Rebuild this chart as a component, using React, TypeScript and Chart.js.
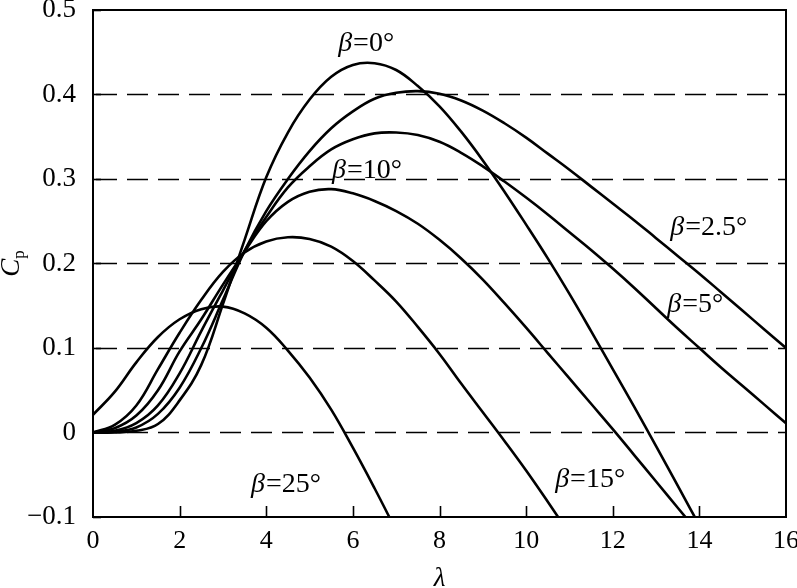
import React, { useEffect, useRef } from "react";
import { Chart, registerables } from "chart.js";

Chart.register(...registerables);

// λ grid shared by all curves (tip-speed ratio)
const LAMBDA = [
  0, 0.5, 1, 1.5, 2, 2.5, 3, 3.5, 4, 4.5, 5, 5.5, 6, 6.5, 7, 7.5, 8, 8.5, 9, 9.5,
  10, 10.5, 11, 11.5, 12, 12.5, 13, 13.5, 14, 14.5, 15, 15.5, 16,
];

// Power coefficient Cp for each pitch angle β
const CP_B0 = [
  0, 0, 0.002, 0.01, 0.038, 0.08, 0.152, 0.228, 0.302, 0.355, 0.394, 0.421, 0.435, 0.437,
  0.429, 0.41, 0.386, 0.356, 0.322, 0.285, 0.246, 0.206, 0.164, 0.12, 0.075, 0.03, -0.016,
  -0.063, -0.11,
];
const CP_B2_5 = [
  0, 0.001, 0.006, 0.022, 0.053, 0.1, 0.157, 0.215, 0.262, 0.3, 0.333, 0.36, 0.38, 0.395,
  0.402, 0.404, 0.401, 0.393, 0.381, 0.366, 0.349, 0.33, 0.311, 0.291, 0.271, 0.251, 0.23,
  0.209, 0.188, 0.166, 0.144, 0.122, 0.1,
];
const CP_B5 = [
  0, 0.002, 0.011, 0.032, 0.07, 0.12, 0.168, 0.215, 0.255, 0.29, 0.315, 0.335, 0.347, 0.354,
  0.355, 0.352, 0.344, 0.331, 0.315, 0.297, 0.278, 0.258, 0.237, 0.216, 0.194, 0.171, 0.147,
  0.123, 0.1, 0.077, 0.055, 0.033, 0.011,
];
const CP_B10 = [
  0, 0.005, 0.02, 0.05, 0.096, 0.134, 0.175, 0.214, 0.25, 0.273, 0.285, 0.288, 0.283, 0.274,
  0.262, 0.247, 0.228, 0.206, 0.181, 0.153, 0.124, 0.094, 0.064, 0.034, 0.004, -0.027, -0.058,
  -0.089, -0.12,
];
const CP_B15 = [
  0, 0.009, 0.032, 0.075, 0.118, 0.157, 0.19, 0.213, 0.226, 0.231, 0.229, 0.22, 0.203, 0.18,
  0.155, 0.125, 0.093, 0.058, 0.024, -0.01, -0.045, -0.082, -0.12,
];
const CP_B25 = [
  0.021, 0.048, 0.083, 0.113, 0.134, 0.146, 0.149, 0.141, 0.124, 0.097, 0.065, 0.027, -0.018,
  -0.066, -0.116,
];

const SERIES = [CP_B0, CP_B2_5, CP_B5, CP_B10, CP_B15, CP_B25];

// Axis ticks
const X_TICKS = [0, 2, 4, 6, 8, 10, 12, 14, 16];
const Y_TICKS = [-0.1, 0, 0.1, 0.2, 0.3, 0.4, 0.5];
const Y_GRID = [0, 0.1, 0.2, 0.3, 0.4];

// Curve annotations: text after β, anchor (λ, Cp) of left/baseline
const LABEL_TEXTS = ["=0°", "=10°", "=2.5°", "=5°", "=15°", "=25°"];
const LABEL_LAMBDA = [5.66, 5.52, 13.33, 13.26, 10.67, 3.65];
const LABEL_CP = [0.451, 0.301, 0.234, 0.143, -0.065, -0.071];

const SERIF = '"Liberation Serif", "Times New Roman", serif';

const fmtY = (v: number) => {
  if (Math.abs(v) < 1e-9) return "0";
  return (v < 0 ? "\u2212" : "") + Math.abs(v).toFixed(1);
};

const decorPlugin = {
  id: "decor",
  beforeDatasetsDraw(chart: any) {
    const { ctx, chartArea, scales } = chart;
    const y = scales.y;
    ctx.save();
    ctx.strokeStyle = "#000";
    ctx.lineWidth = 1.6;
    ctx.setLineDash([21, 10]);
    Y_GRID.forEach((v) => {
      const py = Math.round(y.getPixelForValue(v)) + 0.5;
      ctx.beginPath();
      ctx.moveTo(chartArea.left + 3, py);
      ctx.lineTo(chartArea.right, py);
      ctx.stroke();
    });
    ctx.restore();
  },
  afterDatasetsDraw(chart: any) {
    const { ctx, chartArea, scales } = chart;
    const x = scales.x;
    const y = scales.y;
    ctx.save();
    ctx.strokeStyle = "#000";
    ctx.setLineDash([]);
    // frame
    ctx.lineWidth = 2;
    ctx.strokeRect(
      chartArea.left,
      chartArea.top,
      chartArea.right - chartArea.left,
      chartArea.bottom - chartArea.top
    );
    // inward x ticks
    ctx.lineWidth = 1.6;
    X_TICKS.forEach((v) => {
      if (v === 0 || v === 16) return;
      const px = Math.round(x.getPixelForValue(v)) + 0.5;
      ctx.beginPath();
      ctx.moveTo(px, chartArea.bottom);
      ctx.lineTo(px, chartArea.bottom - 11);
      ctx.stroke();
    });
    // inward y ticks
    Y_TICKS.forEach((v) => {
      const py = Math.round(y.getPixelForValue(v)) + 0.5;
      ctx.beginPath();
      ctx.moveTo(chartArea.left, py);
      ctx.lineTo(chartArea.left + 8, py);
      ctx.stroke();
    });
    // curve labels
    ctx.fillStyle = "#000";
    ctx.textBaseline = "alphabetic";
    ctx.textAlign = "left";
    LABEL_TEXTS.forEach((t, i) => {
      const px = x.getPixelForValue(LABEL_LAMBDA[i]);
      const py = y.getPixelForValue(LABEL_CP[i]);
      ctx.font = `italic 28px ${SERIF}`;
      ctx.fillText("β", px, py);
      const w = ctx.measureText("β").width;
      ctx.font = `28px ${SERIF}`;
      ctx.fillText(t, px + w + 1, py);
    });
    // axis titles
    ctx.font = `italic 27px ${SERIF}`;
    ctx.textAlign = "center";
    ctx.fillText("λ", (chartArea.left + chartArea.right) / 2, 586);
    ctx.translate(19, (chartArea.top + chartArea.bottom) / 2);
    ctx.rotate(-Math.PI / 2);
    ctx.textAlign = "left";
    ctx.font = `italic 27px ${SERIF}`;
    const cw = ctx.measureText("C").width;
    ctx.font = `17px ${SERIF}`;
    const pw = ctx.measureText("p").width;
    const start = -(cw + pw) / 2;
    ctx.font = `italic 27px ${SERIF}`;
    ctx.fillText("C", start, 0);
    ctx.font = `17px ${SERIF}`;
    ctx.fillText("p", start + cw, 5);
    ctx.restore();
  },
};

export default function App() {
  const canvasRef = useRef<HTMLCanvasElement | null>(null);

  useEffect(() => {
    const canvas = canvasRef.current;
    if (!canvas) return;
    const chart = new Chart(canvas, {
      type: "line",
      data: {
        datasets: SERIES.map((vals) => ({
          data: vals.map((v, i) => ({ x: LAMBDA[i], y: v })),
          borderColor: "#000",
          borderWidth: 2.6,
          pointRadius: 0,
          fill: false,
          tension: 0.4,
        })),
      },
      options: {
        animation: false,
        responsive: false,
        maintainAspectRatio: false,
        layout: { padding: { top: 10, right: 11, left: 0, bottom: 0 } },
        plugins: {
          legend: { display: false },
          tooltip: { enabled: false },
        },
        scales: {
          x: {
            type: "linear",
            min: 0,
            max: 16,
            afterFit: (s: any) => {
              s.height = 71;
              s.paddingLeft = 0;
              s.paddingRight = 0;
            },
            afterBuildTicks: (s: any) => {
              s.ticks = X_TICKS.map((v) => ({ value: v }));
            },
            ticks: {
              font: { family: SERIF, size: 26 },
              color: "#000",
              padding: 1,
              maxRotation: 0,
              autoSkip: false,
              callback: (v: any) => String(v),
            },
            grid: { display: false },
            border: { display: false },
          },
          y: {
            type: "linear",
            min: -0.1,
            max: 0.5,
            afterFit: (s: any) => {
              s.width = 93;
              s.paddingTop = 0;
              s.paddingBottom = 0;
            },
            afterBuildTicks: (s: any) => {
              s.ticks = Y_TICKS.map((v) => ({ value: v }));
            },
            ticks: {
              font: { family: SERIF, size: 27 },
              color: "#000",
              padding: 9,
              autoSkip: false,
              callback: (v: any) => fmtY(Number(v)),
            },
            grid: { display: false },
            border: { display: false },
          },
        },
      },
      plugins: [decorPlugin],
    });
    return () => chart.destroy();
  }, []);

  return (
    <div style={{ position: "fixed", left: 0, top: 0, width: 797, height: 588, background: "#fff" }}>
      <canvas ref={canvasRef} width={797} height={588} style={{ width: 797, height: 588 }} />
    </div>
  );
}
